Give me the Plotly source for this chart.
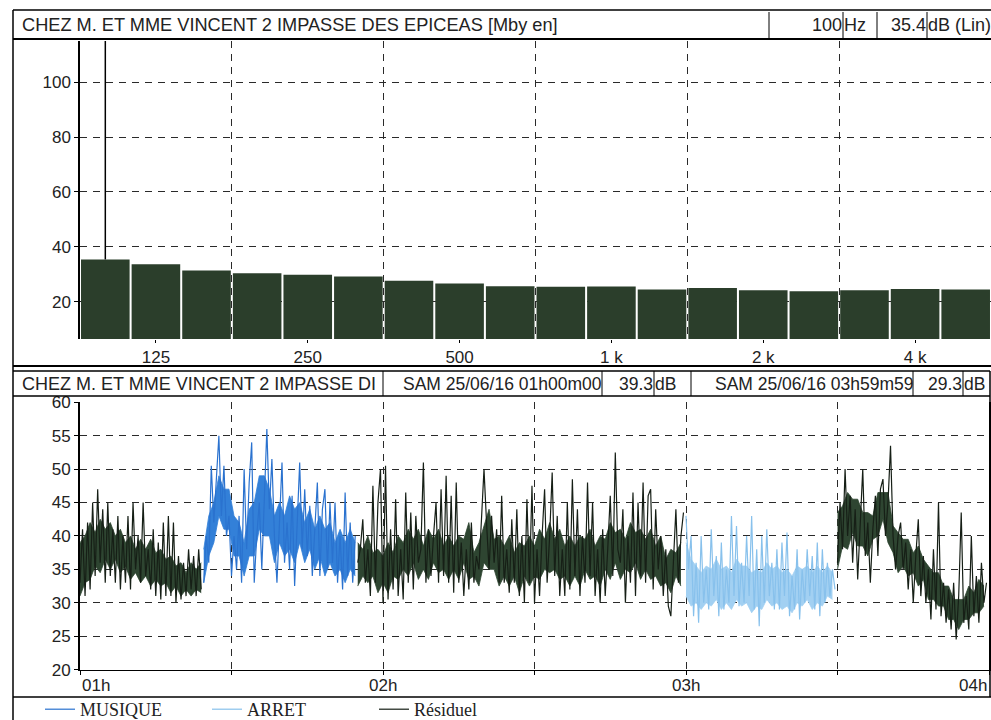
import plotly.graph_objects as go
import pandas as pd

W, H = 991, 720


def px(x):
    return x / W


def py(y):
    return 1 - y / H


# ---------------- data: spectrum (top panel) ----------------
bands = ["100", "125", "160", "200", "250", "315", "400", "500", "630", "800",
         "1k", "1.25k", "1.6k", "2k", "2.5k", "3.15k", "4k", "5k"]
band_levels = [35.4, 33.6, 31.4, 30.4, 29.8, 29.2, 27.6, 26.6, 25.6, 25.4,
               25.5, 24.4, 25.0, 24.2, 23.8, 24.2, 24.6, 24.4]
labelled_bands = ["125", "250", "500", "1k", "2k", "4k"]
labelled_text = ["125", "250", "500", "1 k", "2 k", "4 k"]
cursor_band = "100"

# ---------------- data: time history (bottom panel) ----------------
seg_start = ["2016-06-25 01:00:00", "2016-06-25 01:24:30", "2016-06-25 01:55:00",
             "2016-06-25 03:00:00", "2016-06-25 03:30:00"]
step = "30s"        # spacing of the peak/trough readings
core_step = "60s"   # spacing of the dense-core envelope readings

# peak / trough readings (every 30 s)
residuel_1 = [33, 41, 31, 42, 32, 45, 34, 47, 36, 44, 33, 45, 34, 41, 33, 43, 32, 40, 33, 43,
              32, 45, 35, 40, 33, 45, 34, 38, 32, 41, 31, 39, 30.5, 42, 31, 43, 31, 42, 30, 37,
              30.5, 36, 31, 38, 32, 37, 31, 38, 32]
musique = [33, 40, 36, 50.5, 42, 48, 55, 43, 50.5, 40, 43, 34, 40, 35, 43, 33, 50, 38, 48, 54,
           33, 40, 45, 35, 46, 56, 44, 51.5, 40, 33, 42, 51, 36, 42, 35, 46, 32.5, 43, 51, 38,
           47, 37, 44.5, 34, 42, 48, 34, 44, 47, 35, 45, 36, 45, 33, 40, 32, 46.5, 34, 42, 33, 40]
residuel_2 = [36, 38, 42.5, 33, 38, 31, 47.5, 33, 45, 50, 30, 50.5, 30.5, 41, 32, 45.5, 31, 38, 30.5, 46.5,
              33, 43.5, 32, 43, 36, 38, 51, 33, 41, 34, 40, 45, 33, 47, 34, 49, 33, 46, 31.5, 48,
              33, 39, 31, 38, 32, 42, 33, 37, 35, 43, 50, 42, 35, 43, 36, 41, 33, 46, 33, 38,
              31.5, 42.5, 33, 44, 31, 40, 30, 45.5, 33, 47.5, 30, 38, 31, 40, 47, 33, 40, 49.5, 34, 43,
              31, 38, 31, 45, 32, 48.5, 34, 44, 31, 40, 33, 48, 34, 45, 31, 38, 30, 41, 31, 38,
              46, 34, 52.5, 38, 36, 44, 30, 40, 33, 46.5, 31, 45, 34, 48, 33, 46, 47, 32, 44, 35,
              40, 31, 38, 29.5, 28, 36, 44, 33, 40, 43.5]
arret = [43, 35, 40, 28, 36, 27, 40, 30, 35, 29, 41, 31, 37, 28, 39, 29, 35, 30, 43, 31,
         41.5, 29.5, 36, 30, 40, 31, 43, 29, 38, 26.5, 40, 30, 41, 31, 36, 29, 38, 29, 39, 31,
         40.5, 28, 34, 29, 38, 27.5, 35, 30, 38, 31, 37, 29, 39, 28, 38, 30, 36, 31, 35, 32]
residuel_3 = [36, 45, 38, 50, 40, 46, 36, 44, 33.5, 42, 50, 37, 42, 33, 41, 46, 37, 47, 48.5, 40,
              45, 53.5, 40, 35, 40, 42, 35, 39, 32, 38, 30, 37, 42.5, 31, 37, 30, 35, 27.5, 38, 29,
              45, 28, 33, 27, 32, 26, 33, 24.5, 31, 43.5, 27, 31, 26, 40, 28, 34, 27, 36, 30, 33]

# dense core of each segment (low / high edge, every minute)
core_start = ["2016-06-25 01:00:00", "2016-06-25 01:24:30", "2016-06-25 01:55:00",
              "2016-06-25 03:00:00", "2016-06-25 03:30:00"]
res1_lo = [31, 33, 33.5, 35.5, 34.5, 36.5, 35, 36.5, 34.5, 35.5, 33.5, 34.5, 33, 34, 32.5, 33.5,
           32.5, 33, 31.5, 32.5, 31, 32, 31, 32, 31.5]
res1_hi = [39, 40, 42, 40.5, 42.5, 41, 42, 40, 41, 39, 40, 38, 39.5, 38, 39.5, 37.5, 38, 36.5,
           37, 35.5, 36, 34.5, 36, 35, 36]
mus_lo = [33, 37, 39, 43, 41, 41, 37, 37, 34, 37, 37, 41, 40, 40, 36, 39, 37, 38, 36, 39,
          36, 38, 35, 37, 34, 36, 34, 35, 33, 35, 34]
mus_hi = [38, 43, 45, 49, 47, 47, 43, 42, 39, 44, 45, 49, 49, 47, 43, 45, 43, 46, 44, 45,
          42, 44, 41, 43, 41, 42, 39, 41, 39, 41, 39]
res2_lo = [32.5, 34, 33, 34, 31.5, 33, 31.5, 34, 33.5, 35, 34, 36, 33.5, 35, 33.5, 36, 34.5, 35,
           33.5, 35, 33.5, 36, 33.5, 34, 32.5, 36, 35, 35, 32.5, 34, 32.5, 34, 31.5, 34, 32.5, 34,
           33.5, 35, 34.5, 35, 33.5, 34, 32.5, 34, 32.5, 35, 33.5, 34, 32.5, 35, 33.5, 36, 33.5,
           35, 34.5, 36, 33.5, 35, 33.5, 34, 32.5, 33, 31.5, 34, 32.5]
res2_hi = [39, 38, 40, 37.5, 38, 37, 39, 37.5, 40, 39, 41, 39.5, 41, 38.5, 41, 39.5, 41, 38.5,
           40, 38.5, 40, 39.5, 42, 37.5, 39, 41.5, 44, 39.5, 40, 38.5, 40, 37.5, 39, 38.5, 40,
           38.5, 41, 39.5, 42, 39.5, 41, 38.5, 40, 38.5, 40, 39.5, 41, 38.5, 40, 39.5, 42, 40.5,
           41, 39.5, 42, 40.5, 41, 39.5, 41, 38.5, 40, 36.5, 38, 37.5, 39]
arr_lo = [31, 29.5, 30, 29, 30, 29.5, 30.5, 29, 30, 29, 30.5, 29.5, 30, 28.5, 29.5, 29, 30.5,
          29.5, 30, 29, 29.5, 28.5, 30, 29.5, 30.5, 29, 30, 29.5, 31, 30.5]
arr_hi = [39, 36.5, 35.5, 34.5, 35.5, 35, 36.5, 35, 35.5, 34.5, 36.5, 35.5, 35.5, 34.5, 35,
          34.5, 36, 35, 35.5, 34.5, 35, 34, 35.5, 35, 35.5, 34.5, 35.5, 34.5, 35.5, 34.5]
res3_lo = [35, 38.5, 38, 40.5, 38.5, 38.5, 37, 39.5, 40, 42.5, 39, 37.5, 34.5, 35.5, 34, 34.5,
           32.5, 33.5, 30.5, 30.5, 29.5, 29.5, 27.5, 27.5, 26, 27.5, 27.5, 28.5, 28.5, 29.5]
res3_hi = [43.5, 44.5, 46.5, 45.5, 45.5, 43.5, 43.5, 43, 46.5, 46.5, 46.5, 41.5, 40.5, 39.5,
           39.5, 37.5, 38.5, 36.5, 35.5, 34.5, 34.5, 32.5, 32.5, 30.5, 30.5, 30.5, 32.5, 31.5,
           33.5, 32.5]

hour_ticks = ["2016-06-25 01:00", "2016-06-25 02:00", "2016-06-25 03:00", "2016-06-25 04:00"]
hour_text = ["01h", "02h", "03h", "04h"]
half_hour_ticks = ["2016-06-25 01:00", "2016-06-25 01:30", "2016-06-25 02:00", "2016-06-25 02:30",
                   "2016-06-25 03:00", "2016-06-25 03:30", "2016-06-25 04:00"]

header1 = "CHEZ M. ET MME VINCENT 2 IMPASSE DES EPICEAS [Mby en]"
header2 = "CHEZ M. ET MME VINCENT 2 IMPASSE DI"
cursor_freq, cursor_unit, cursor_val, cursor_val_unit = "100", "Hz", "35.4", "dB (Lin)"
t1_label, t1_val = "SAM 25/06/16 01h00m00", "39.3"
t2_label, t2_val = "SAM 25/06/16 03h59m59", "29.3"


def times(start, values, freq=step):
    return pd.date_range(start, periods=len(values), freq=freq)


SANS = "Liberation Sans, Arial, sans-serif"
SERIF = "Liberation Serif, Times New Roman, serif"
GRID = "#2a2a2a"
DASH = "7px,6px"
BAR = "#2b3e2b"
RES_LINE = "#161f16"
RES_FILL = "#2e4531"
MUS_LINE = "#2a72cf"
MUS_FILL = "#3380d8"
ARR_LINE = "#88c1ec"
ARR_FILL = "#a2d0f2"

fig = go.Figure()

# ---- top: spectrum bars ----
idx = list(range(len(bands)))
fig.add_trace(go.Bar(x=idx, y=band_levels, marker=dict(color=BAR, line=dict(width=0)),
                     base=0, showlegend=False, xaxis="x", yaxis="y", hoverinfo="skip"))
ci = bands.index(cursor_band)
fig.add_trace(go.Scatter(x=[ci, ci], y=[band_levels[ci], 115], mode="lines",
                         line=dict(color="black", width=1.5), showlegend=False,
                         xaxis="x", yaxis="y", hoverinfo="skip"))


# ---- bottom: dense cores (filled envelopes) ----
def core(start, lo, hi, color):
    t = times(start, lo, core_step)
    fig.add_trace(go.Scatter(x=t, y=lo, mode="lines", line=dict(width=0.8, color=color),
                             showlegend=False, xaxis="x2", yaxis="y2", hoverinfo="skip"))
    fig.add_trace(go.Scatter(x=t, y=hi, mode="lines", line=dict(width=0.8, color=color),
                             fill="tonexty", fillcolor=color, showlegend=False,
                             xaxis="x2", yaxis="y2", hoverinfo="skip"))


core(core_start[0], res1_lo, res1_hi, RES_FILL)
core(core_start[1], mus_lo, mus_hi, MUS_FILL)
core(core_start[2], res2_lo, res2_hi, RES_FILL)
core(core_start[3], arr_lo, arr_hi, ARR_FILL)
core(core_start[4], res3_lo, res3_hi, RES_FILL)

# ---- bottom: peak/trough traces ----
fig.add_trace(go.Scatter(x=times(seg_start[1], musique), y=musique, mode="lines", name="MUSIQUE",
                         line=dict(color=MUS_LINE, width=1.2), xaxis="x2", yaxis="y2"))
fig.add_trace(go.Scatter(x=times(seg_start[3], arret), y=arret, mode="lines", name="ARRET",
                         line=dict(color=ARR_LINE, width=1.2), xaxis="x2", yaxis="y2"))
res_x = (list(times(seg_start[0], residuel_1)) + [None] +
         list(times(seg_start[2], residuel_2)) + [None] +
         list(times(seg_start[4], residuel_3)))
res_y = residuel_1 + [None] + residuel_2 + [None] + residuel_3
fig.add_trace(go.Scatter(x=res_x, y=res_y, mode="lines", name="Résiduel",
                         line=dict(color=RES_LINE, width=1.2), xaxis="x2", yaxis="y2",
                         connectgaps=False))

tickfont = dict(family=SANS, size=17, color="#222")

fig.update_layout(
    width=W, height=H, margin=dict(l=0, r=0, t=0, b=0, autoexpand=False),
    paper_bgcolor="white", plot_bgcolor="white",
    bargap=0.04,
    xaxis=dict(domain=[px(80), 1], range=[-0.5, len(bands) - 0.5], anchor="y",
               tickmode="array", tickvals=[bands.index(b) for b in labelled_bands],
               ticktext=labelled_text, ticks="outside", ticklen=3, tickcolor="black",
               showgrid=False, zeroline=False, showline=False, tickfont=tickfont,
               minor=dict(tickvals=[2.5, 5.5, 8.5, 11.5, 14.5], showgrid=True,
                          gridcolor=GRID, griddash=DASH, gridwidth=1, ticks="")),
    yaxis=dict(domain=[py(339), py(41)], range=[6.4, 115], anchor="x",
               tickvals=[20, 40, 60, 80, 100], ticks="outside", ticklen=4, tickcolor="black",
               showgrid=True, gridcolor=GRID, griddash=DASH, gridwidth=1,
               zeroline=False, showline=True, linecolor="black", linewidth=1.5,
               tickfont=tickfont),
    xaxis2=dict(domain=[px(80), px(989)], type="date", anchor="y2",
                range=["2016-06-25 01:00:00", "2016-06-25 04:00:00"],
                tickmode="array", tickvals=half_hour_ticks, showticklabels=False,
                ticks="outside", ticklen=4, tickcolor="black",
                showgrid=True, gridcolor=GRID, griddash=DASH, gridwidth=1,
                zeroline=False, showline=True, linecolor="black", linewidth=1.2),
    yaxis2=dict(domain=[py(669.6), py(402.3)], range=[20, 60], anchor="x2",
                tickmode="linear", tick0=20, dtick=5, ticks="outside", ticklen=4,
                tickcolor="black", showgrid=True, gridcolor=GRID, griddash=DASH, gridwidth=1,
                zeroline=False, showline=True, linecolor="black", linewidth=2, mirror=True,
                tickfont=tickfont),
    legend=dict(orientation="h", x=px(40), y=-8 / H, xanchor="left", yanchor="bottom",
                traceorder="normal",
                font=dict(family=SERIF, size=18, color="#222"), entrywidth=122,
                bgcolor="rgba(0,0,0,0)", itemclick=False, borderwidth=0),
    showlegend=True,
)

# ---- frame and header boxes ----
shapes = []


def line(x0, y0, x1, y1, w=1.2):
    shapes.append(dict(type="line", xref="paper", yref="paper", x0=px(x0), x1=px(x1),
                       y0=py(y0), y1=py(y1), line=dict(color="black", width=w)))


# top header
line(13, 10, 991, 10, 1.5)
line(13, 39, 991, 39, 1.8)
for xv in [769, 843, 877, 927]:
    line(xv, 12, xv, 39, 1)
# separator between panels
line(13, 366, 991, 366, 2)
# bottom header
line(13, 371, 990, 371, 1.5)
line(13, 396, 990, 396, 1.5)
for xv in [383, 602, 654, 691, 913, 963]:
    line(xv, 371, xv, 396, 1)
line(990, 371, 990, 697, 1.5)
# bottom of lower panel / legend strip
line(13, 697, 991, 697, 1.5)
# left border
line(13, 10, 13, 720, 1.5)
fig.update_layout(shapes=shapes)

ann = []


def text(s, x, y, anchor="left", size=18, family=SANS):
    ann.append(dict(text=s, x=px(x), y=py(y), xref="paper", yref="paper", xanchor=anchor,
                    yanchor="middle", showarrow=False,
                    font=dict(family=family, size=size, color="#222")))


text(header1, 20, 25, "left", 18.2)
text(cursor_freq, 844, 25, "right", 18)
text(cursor_unit, 842, 25, "left", 18)
text(cursor_val, 928, 25, "right", 18)
text(cursor_val_unit, 926, 25, "left", 18)

text(header2, 20, 384, "left", 18)
text(t1_label, 604, 384, "right", 17.5)
text(t1_val, 655, 384, "right", 17.5)
text("dB", 653, 384, "left", 17.5)
text(t2_label, 915, 384, "right", 17.5)
text(t2_val, 964, 384, "right", 17.5)
text("dB", 962, 384, "left", 17.5)

anchors = ["left", "center", "center", "right"]
for tv, tt, an in zip(hour_ticks, hour_text, anchors):
    ann.append(dict(text=tt, x=tv, xref="x2", y=py(685), yref="paper", xanchor=an,
                    yanchor="middle", showarrow=False,
                    font=dict(family=SANS, size=17, color="#222")))

fig.update_layout(annotations=ann)

fig.write_html("out.html")
